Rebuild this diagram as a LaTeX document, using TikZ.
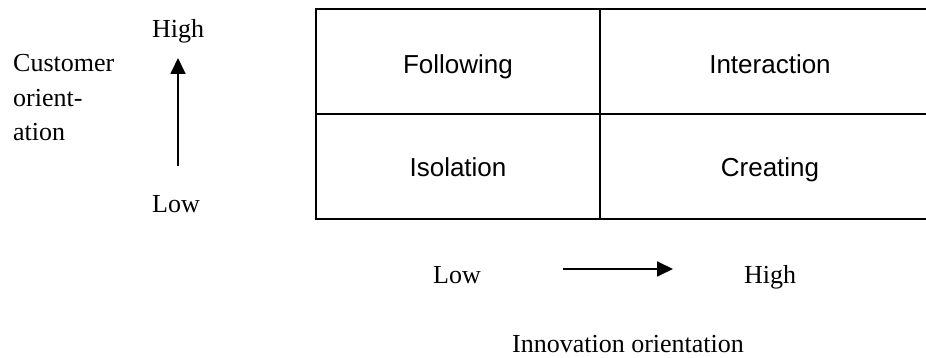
\documentclass[tikz,border=0pt]{standalone}
\usepackage{fontspec}
\setmainfont{Liberation Serif}
\newfontfamily\cellfont{Liberation Sans}
\usetikzlibrary{positioning,arrows.meta}

\begin{document}
\begin{tikzpicture}[
  x=1pt, y=-1pt,
  >={Triangle[length=16pt,width=15pt]},
  every node/.style={font=\fontsize{26}{34.5}\selectfont, inner sep=0pt},
  celltext/.style={font=\cellfont\fontsize{26}{30}\selectfont, anchor=base},
  axislbl/.style={anchor=base},
  gridline/.style={line width=2pt},
  axisline/.style={->, line width=1.8pt},
]
\clip (0,0) rectangle (926,358);

% -- Matrix grid (open to the right) --
\draw[gridline] (316,9) rectangle (980,219);
\draw[gridline] (316,114) -- (980,114);
\draw[gridline] (600,9) -- (600,219);

% -- Cell labels --
\node[celltext] (follow)   at (458,74)  {Following};
\node[celltext] (interact) at (770,74)  {Interaction};
\node[celltext] (isolate)  at (458,177) {Isolation};
\node[celltext] (create)   at (770,177) {Creating};

% -- Vertical axis: customer orientation --
\node[anchor=base west, align=left] (custlbl) at (13,141)
  {Customer\\orient-\\ation};
\node[axislbl] (vHigh) at (178,38)  {High};
\node[axislbl] (vLow)  at (176,213) {Low};
\coordinate (vTail) at (178,166);
\coordinate (vTip)  at (178,58);
\draw[axisline] (vTail) -- (vTip);

% -- Horizontal axis: innovation orientation --
\node[axislbl] (hLow)  at (457,283) {Low};
\node[axislbl] (hHigh) at (770,283) {High};
\coordinate (hTail) at (563,269);
\coordinate (hTip)  at (673,269);
\draw[axisline] (hTail) -- (hTip);
\node[axislbl] (innolbl) at (628,352) {Innovation orientation};

\end{tikzpicture}
\end{document}
